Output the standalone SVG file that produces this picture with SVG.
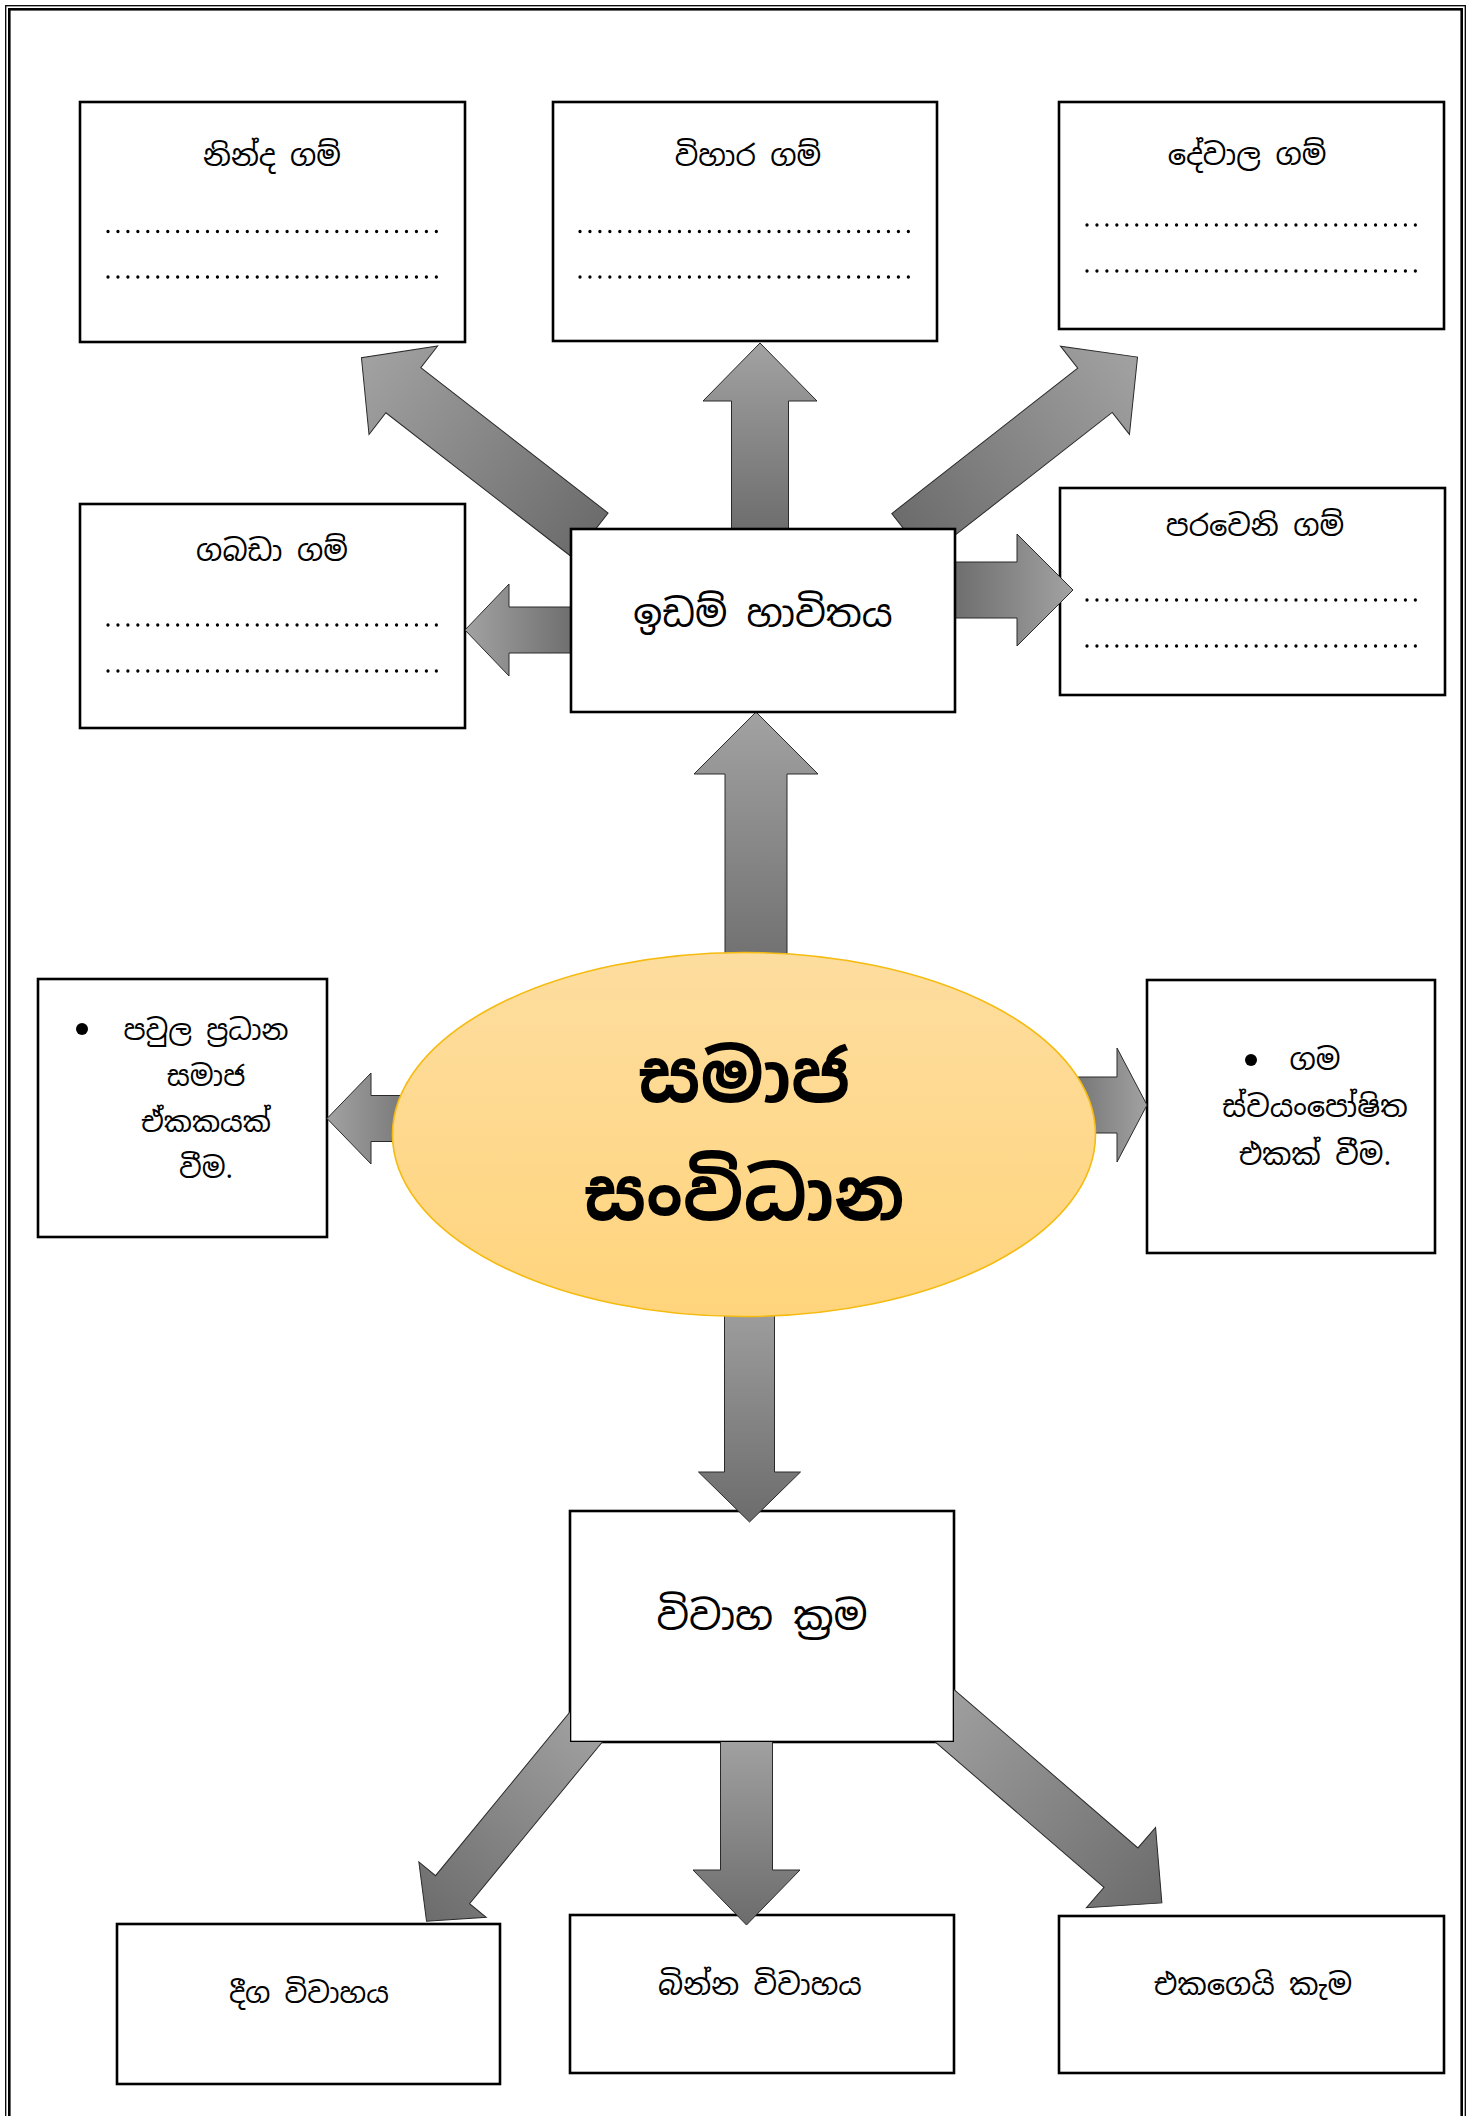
<svg xmlns="http://www.w3.org/2000/svg" width="1480" height="2116" viewBox="0 0 1480 2116">
<style>
.box{fill:#fff;stroke:#000;stroke-width:2.6}
.t{font-family:"Noto Sans Sinhala","Iskoola Pota","LKLUG","Noto Sans",sans-serif;fill:#000;text-anchor:middle}
.dots{stroke:#000;stroke-width:3.3;stroke-linecap:round;stroke-dasharray:0 9.95;fill:none}
.up{fill:url(#gUp);stroke:#2a2a2a;stroke-width:1}
.dn{fill:url(#gDn);stroke:#2a2a2a;stroke-width:1}
</style>
<defs>
<linearGradient id="gUp" x1="0" y1="0" x2="1" y2="0"><stop offset="0" stop-color="#6c6c6c"/><stop offset="1" stop-color="#a2a2a2"/></linearGradient>
<linearGradient id="gDn" x1="0" y1="0" x2="1" y2="0"><stop offset="0" stop-color="#a2a2a2"/><stop offset="1" stop-color="#6c6c6c"/></linearGradient>
<linearGradient id="gEl" x1="0" y1="0" x2="0" y2="1"><stop offset="0" stop-color="#fddd9f"/><stop offset="1" stop-color="#ffd47c"/></linearGradient>
<clipPath id="noI"><path clip-rule="evenodd" d="M0 0H1480V2116H0Z M570 1511H954V1742H570Z"/></clipPath>
</defs>
<g id="page-border" fill="none" stroke="#000">
<rect x="5.7" y="5.7" width="1459.6" height="2200" stroke-width="1.3"/>
<rect x="9.3" y="9.3" width="1452.4" height="2200" stroke-width="2.6"/>
</g>
<g id="node-ninda">
<rect class="box" x="80" y="102" width="385" height="240"/>
<text class="t" x="272" y="166" font-size="29">නින්ද ගම්</text>
<path class="dots" d="M108 231.5H438M108 277H438"/>
</g>
<g id="node-vihara">
<rect class="box" x="553" y="102" width="384" height="239"/>
<text class="t" x="748" y="166" font-size="29">විහාර ගම්</text>
<path class="dots" d="M580 231.5H911M580 277H911"/>
</g>
<g id="node-devala">
<rect class="box" x="1059" y="102" width="385" height="227"/>
<text class="t" x="1247" y="165" font-size="29">දේවාල ගම්</text>
<path class="dots" d="M1087 225H1417M1087 271H1417"/>
</g>
<g id="node-gabada">
<rect class="box" x="80" y="504" width="385" height="224"/>
<text class="t" x="272" y="561" font-size="29">ගබඩා ගම්</text>
<path class="dots" d="M108 625H438M108 671H438"/>
</g>
<g id="node-paraweni">
<rect class="box" x="1060" y="488" width="385" height="207"/>
<text class="t" x="1255" y="536" font-size="29">පරවෙනි ගම්</text>
<path class="dots" d="M1087 600H1417M1087 646H1417"/>
</g>
<g id="node-pavula">
<rect class="box" x="38" y="979" width="289" height="258"/>
<circle cx="82" cy="1029" r="6"/>
<text class="t" font-size="28"><tspan x="206" y="1040">පවුල ප්‍රධාන</tspan><tspan x="206" y="1086">සමාජ</tspan><tspan x="206" y="1132">ඒකකයක්</tspan><tspan x="206" y="1178">වීම.</tspan></text>
</g>
<g id="node-gama">
<rect class="box" x="1147" y="980" width="288" height="273"/>
<circle cx="1251" cy="1060" r="6"/>
<text class="t" font-size="29"><tspan x="1315" y="1070">ගම</tspan><tspan x="1315" y="1117">ස්වයංපෝෂිත</tspan><tspan x="1315" y="1165">එකක් වීම.</tspan></text>
</g>
<g id="node-vivaha-krama">
<rect class="box" x="570" y="1511" width="384" height="231"/>
<text class="t" x="762" y="1630" font-size="40">විවාහ ක්‍රම</text>
</g>
<g id="node-diga">
<rect class="box" x="117" y="1924" width="383" height="160"/>
<text class="t" x="309" y="2003" font-size="28">දීග විවාහය</text>
</g>
<g id="node-binna">
<rect class="box" x="570" y="1915" width="384" height="158"/>
<text class="t" x="760" y="1995" font-size="29">බින්න විවාහය</text>
</g>
<g id="node-ekagei">
<rect class="box" x="1059" y="1916" width="385" height="157"/>
<text class="t" x="1253" y="1995" font-size="29">එකගෙයි කැම</text>
</g>
<g id="connectors">
<path class="up" transform="translate(760 535) rotate(-90)" d="M0 -28.5H134V-57L192 0L134 57V28.5H0Z"/>
<path class="up" transform="translate(590.6 535.5) rotate(-142.2)" d="M0 -28.5H237V-56L290 0L237 56V28.5H0Z"/>
<path class="up" transform="translate(909 535.6) rotate(-38)" d="M0 -28H236V-56L290 0L236 56V28H0Z"/>
<path class="up" transform="translate(578 630) rotate(180)" d="M0 -23H69V-46L113 0L69 46V23H0Z"/>
<path class="up" transform="translate(950 590)" d="M0 -28H67V-56L123 0L67 56V28H0Z"/>
<path class="up" transform="translate(756 985) rotate(-90)" d="M0 -31H211V-62L273 0L211 62V31H0Z"/>
<path class="up" transform="translate(430 1118.5) rotate(180)" d="M0 -23H59V-45.5L103 0L59 45.5V23H0Z"/>
<path class="up" transform="translate(1060 1105)" d="M0 -28H57V-57L87 0L57 57V28H0Z"/>
<path class="dn" transform="translate(749.5 1290) rotate(90)" d="M0 -25H182V-51L232 0L182 51V25H0Z"/>
<g clip-path="url(#noI)">
<path class="dn" transform="translate(596 1715) rotate(129.4)" d="M0 -22H226V-43.6L267 0L226 43.6V22H0Z"/>
<path class="dn" transform="translate(746.5 1735) rotate(90)" d="M0 -26H135V-53.5L190 0L135 53.5V26H0Z"/>
<path class="dn" transform="translate(921.7 1696) rotate(40.74)" d="M0 -26H263V-53L317 0L263 53V26H0Z"/>
</g>
</g>
<g id="node-idam">
<rect class="box" x="571" y="529" width="384" height="183"/>
<text class="t" x="763" y="627" font-size="38">ඉඩම් හාවිතය</text>
</g>
<g id="node-samaja">
<ellipse cx="744" cy="1134.5" rx="351.5" ry="182" fill="url(#gEl)" stroke="#f5bb10" stroke-width="1.6"/>
<text class="t" font-size="72" font-weight="bold"><tspan x="744" y="1102">සමාජ</tspan><tspan x="744" y="1220">සංවිධාන</tspan></text>
</g>
</svg>
